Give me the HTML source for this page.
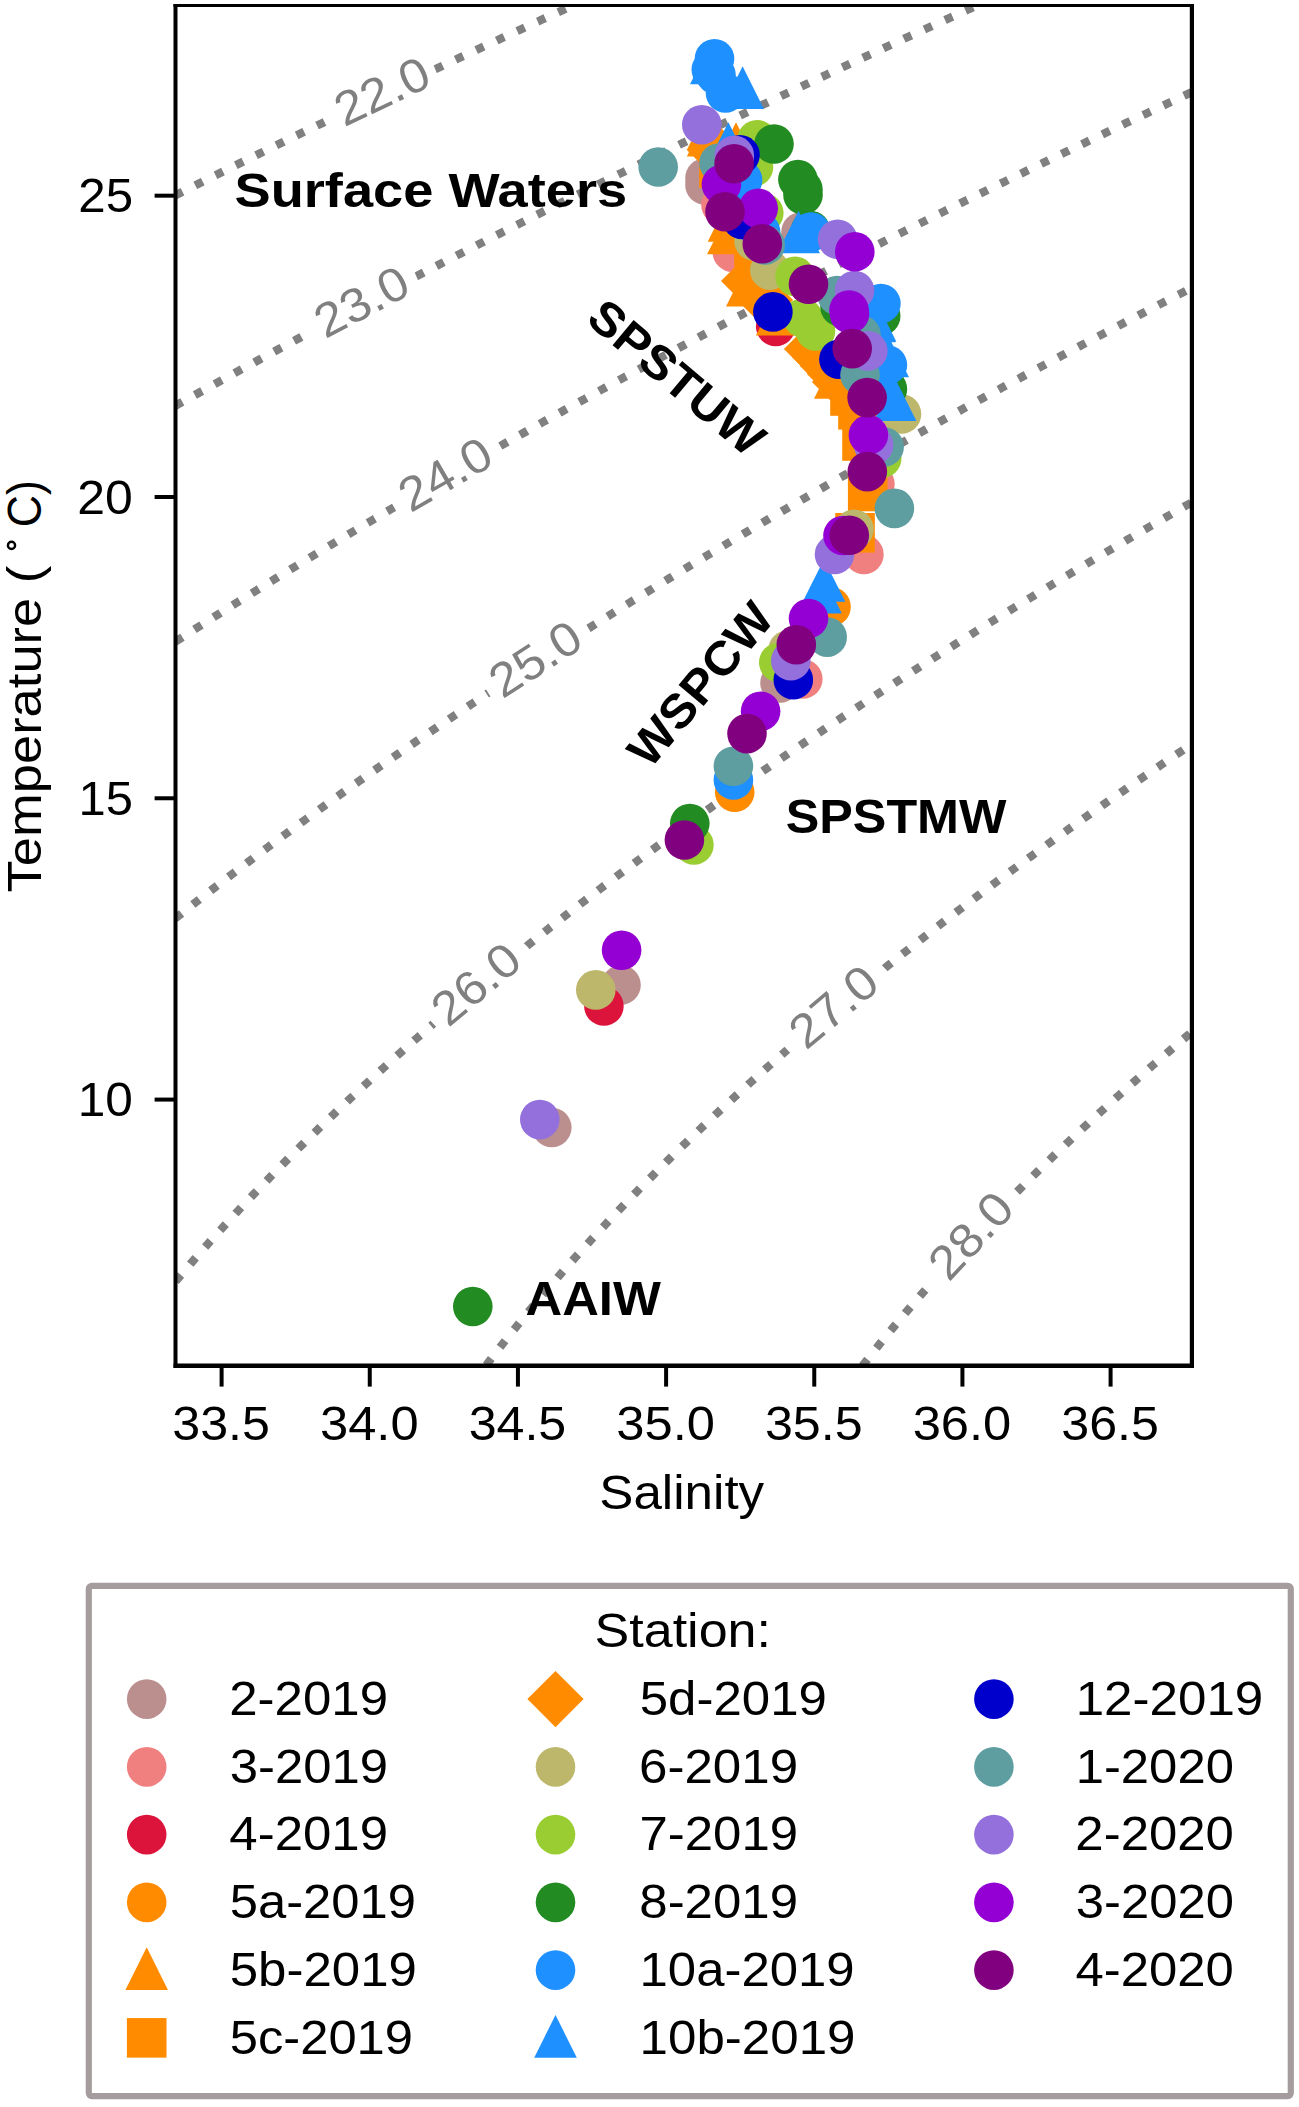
<!DOCTYPE html>
<html><head><meta charset="utf-8"><style>html,body{margin:0;padding:0;background:#fff;overflow:hidden}svg{display:block}text{font-family:"Liberation Sans",sans-serif}</style></head>
<body><svg width="1299" height="2107" viewBox="0 0 1299 2107">
<rect x="0" y="0" width="1299" height="2107" fill="#fff"/>
<clipPath id="ax"><rect x="175.5" y="5.5" width="1016.4000000000001" height="1360.2"/></clipPath>
<g clip-path="url(#ax)" fill="none" stroke="#808080" stroke-width="8.3" stroke-dasharray="8.3 14.30" stroke-linecap="butt"><path d="M100.0,233.4 L100.8,233.0 L104.7,231.0 L108.6,229.0 L112.6,227.0 L116.5,225.0 L120.4,223.0 L124.4,221.0 L128.3,219.0 L132.3,217.0 L136.2,215.0 L140.2,213.0 L144.1,211.0 L148.1,209.0 L152.0,207.0 L156.0,205.0 L160.0,203.0 L164.0,201.0 L168.0,199.0 L172.0,197.0 L176.0,195.0 L180.0,193.0 L184.0,191.0 L188.0,189.0 L192.0,187.0 L196.0,185.0 L200.0,183.0 L204.0,181.0 L208.0,179.0 L212.0,177.0 L216.1,175.0 L220.1,173.0 L224.1,171.0 L228.2,169.0 L232.2,167.0 L236.3,165.0 L240.3,163.0 L244.4,161.0 L248.5,159.0 L252.5,157.0 L256.6,155.0 L260.7,153.0 L264.8,151.0 L268.9,149.0 L273.0,147.0 L277.0,145.0 L281.0,143.1 L285.0,141.1 L289.0,139.2 L293.0,137.2 L297.0,135.3 L301.0,133.3 L305.0,131.4 L309.0,129.5 L313.0,127.5 L317.0,125.6 L321.0,123.7 L325.0,121.7 L329.0,119.8 L331.7,118.5" stroke-dashoffset="6.27"/>
<path d="M435.2,69.2 L435.7,69.0 L440.0,67.0 L444.0,65.1 L448.0,63.2 L452.0,61.4 L456.0,59.5 L460.0,57.6 L464.0,55.8 L468.0,53.9 L472.1,52.0 L476.3,50.0 L480.6,48.0 L484.9,46.0 L489.0,44.1 L493.0,42.3 L497.0,40.4 L501.0,38.5 L505.0,36.7 L509.0,34.8 L513.0,33.0 L517.3,31.0 L521.7,29.0 L526.0,27.0 L530.0,25.2 L534.0,23.3 L538.0,21.5 L542.0,19.6 L546.0,17.8 L550.0,16.0 L554.3,14.0 L558.7,12.0 L563.0,10.0 L567.0,8.2 L571.0,6.4 L575.0,4.5 L579.0,2.7 L583.0,0.9 L587.2,-1.0 L591.6,-3.0 L596.0,-5.0 L600.0,-6.8 L604.0,-8.6 L608.0,-10.4 L612.0,-12.3 L616.0,-14.1 L620.3,-16.0 L624.7,-18.0 L629.0,-19.9 L633.0,-21.7 L637.0,-23.5 L641.0,-25.3 L645.0,-27.1 L649.2,-29.0 L653.6,-31.0 L658.0,-33.0 L662.0,-34.8 L666.0,-36.5 L670.0,-38.3 L674.0,-40.1 L678.2,-42.0 L682.7,-44.0 L687.0,-45.9 L691.0,-47.7 L695.0,-49.5 L699.0,-51.3 L703.0,-53.0 L707.4,-55.0 L712.0,-57.0 L716.0,-58.8 L720.0,-60.6 L724.0,-62.3 L728.0,-64.1 L732.3,-66.0 L736.8,-68.0 L741.0,-69.8 L745.0,-71.6 L749.0,-73.4 L753.0,-75.1 L757.3,-77.0 L761.8,-79.0 L764.1,-80.0"/>
<path d="M100.0,448.5 L100.8,448.0 L104.3,446.0 L108.0,443.9 L112.0,441.6 L116.0,439.3 L120.0,437.1 L123.6,435.0 L127.2,433.0 L131.0,430.8 L135.0,428.6 L139.0,426.3 L143.0,424.0 L146.6,422.0 L150.2,420.0 L154.0,417.8 L158.0,415.6 L162.0,413.3 L166.0,411.1 L169.8,409.0 L173.3,407.0 L177.0,405.0 L181.0,402.7 L185.0,400.5 L189.0,398.3 L193.0,396.0 L196.7,394.0 L200.3,392.0 L204.0,390.0 L208.0,387.7 L212.0,385.5 L216.0,383.3 L220.0,381.1 L223.9,379.0 L227.5,377.0 L231.2,375.0 L235.0,372.9 L239.0,370.7 L243.0,368.5 L247.0,366.3 L251.0,364.2 L255.0,362.0 L258.6,360.0 L262.3,358.0 L266.0,356.0 L270.0,353.8 L274.0,351.7 L278.0,349.5 L282.0,347.4 L286.0,345.2 L290.0,343.0 L293.8,341.0 L297.5,339.0 L301.3,337.0 L305.0,335.0 L309.0,332.9 L310.0,332.3" stroke-dashoffset="4.10"/>
<path d="M416.3,276.3 L417.0,276.0 L420.8,274.0 L424.7,272.0 L428.6,270.0 L432.4,268.0 L436.3,266.0 L440.2,264.0 L444.1,262.0 L448.0,260.0 L452.0,257.9 L456.0,255.9 L460.0,253.8 L464.0,251.8 L468.0,249.7 L472.0,247.7 L476.0,245.7 L480.0,243.6 L484.0,241.6 L488.0,239.5 L492.0,237.5 L496.0,235.5 L500.0,233.5 L504.0,231.4 L508.0,229.4 L512.0,227.4 L516.0,225.4 L520.0,223.4 L524.0,221.3 L528.0,219.3 L532.0,217.3 L536.0,215.3 L540.0,213.3 L544.0,211.3 L548.0,209.3 L552.0,207.3 L556.0,205.3 L560.0,203.3 L564.0,201.3 L568.0,199.3 L572.0,197.3 L576.0,195.3 L580.0,193.4 L584.0,191.4 L588.0,189.4 L592.0,187.4 L596.0,185.4 L600.0,183.5 L604.0,181.5 L608.0,179.5 L612.0,177.6 L616.0,175.6 L620.0,173.6 L624.0,171.7 L628.0,169.7 L632.0,167.7 L636.0,165.8 L640.0,163.8 L644.0,161.9 L648.0,159.9 L652.0,158.0 L656.0,156.0 L660.2,154.0 L664.3,152.0 L668.4,150.0 L672.5,148.0 L676.7,146.0 L680.8,144.0 L684.9,142.0 L689.0,140.0 L693.0,138.1 L697.0,136.2 L701.0,134.2 L705.0,132.3 L709.0,130.4 L713.0,128.5 L717.0,126.6 L721.0,124.6 L725.0,122.7 L729.0,120.8 L733.0,118.9 L737.0,117.0 L741.2,115.0 L745.4,113.0 L749.6,111.0 L753.8,109.0 L758.0,107.0 L762.0,105.1 L766.0,103.2 L770.0,101.3 L774.0,99.4 L778.0,97.5 L782.0,95.6 L786.0,93.7 L790.0,91.9 L794.0,90.0 L798.2,88.0 L802.4,86.0 L806.7,84.0 L811.0,82.0 L815.0,80.1 L819.0,78.2 L823.0,76.4 L827.0,74.5 L831.0,72.6 L835.0,70.8 L839.0,68.9 L843.1,67.0 L847.4,65.0 L851.7,63.0 L856.0,61.0 L860.0,59.1 L864.0,57.3 L868.0,55.4 L872.0,53.6 L876.0,51.7 L880.0,49.9 L884.0,48.0 L888.4,46.0 L892.7,44.0 L897.0,42.0 L901.0,40.2 L905.0,38.3 L909.0,36.5 L913.0,34.7 L917.0,32.8 L921.0,31.0 L925.4,29.0 L929.8,27.0 L934.0,25.1 L938.0,23.2 L942.0,21.4 L946.0,19.6 L950.0,17.8 L954.0,16.0 L958.3,14.0 L962.7,12.0 L967.0,10.1 L971.0,8.2 L975.0,6.4 L979.0,4.6 L983.0,2.8 L987.0,1.0 L991.4,-1.0 L995.9,-3.0 L1000.0,-4.9 L1004.0,-6.7 L1008.0,-8.5 L1012.0,-10.3 L1016.0,-12.0 L1020.3,-14.0 L1024.8,-16.0 L1029.0,-17.9 L1033.0,-19.7 L1037.0,-21.5 L1041.0,-23.2 L1045.0,-25.0 L1049.4,-27.0 L1053.9,-29.0 L1058.0,-30.8 L1062.0,-32.6 L1066.0,-34.4 L1070.0,-36.1 L1074.2,-38.0 L1078.7,-40.0 L1083.0,-41.9 L1087.0,-43.7 L1091.0,-45.5 L1095.0,-47.2 L1099.0,-49.0 L1103.6,-51.0 L1108.0,-53.0 L1112.0,-54.7 L1116.0,-56.5 L1120.0,-58.2 L1124.0,-60.0 L1128.6,-62.0 L1133.0,-63.9 L1137.0,-65.7 L1141.0,-67.4 L1145.0,-69.2 L1149.1,-71.0 L1153.7,-73.0 L1158.0,-74.9 L1162.0,-76.6 L1166.0,-78.4 L1169.8,-80.0"/>
<path d="M100.0,691.1 L100.1,691.0 L104.0,688.4 L107.6,686.0 L111.0,683.8 L115.0,681.1 L118.2,679.0 L122.0,676.5 L125.8,674.0 L129.0,671.9 L133.0,669.2 L136.4,667.0 L140.0,664.7 L144.0,662.0 L147.1,660.0 L151.0,657.5 L154.8,655.0 L158.0,652.9 L162.0,650.3 L165.6,648.0 L169.0,645.8 L173.0,643.2 L176.5,641.0 L180.0,638.7 L184.0,636.2 L187.4,634.0 L191.0,631.7 L195.0,629.1 L198.3,627.0 L202.0,624.7 L206.0,622.1 L209.3,620.0 L213.0,617.7 L217.0,615.1 L220.4,613.0 L224.0,610.7 L228.0,608.2 L231.5,606.0 L235.0,603.8 L239.0,601.3 L242.7,599.0 L246.0,596.9 L250.0,594.4 L253.9,592.0 L257.1,590.0 L261.0,587.6 L265.0,585.1 L268.4,583.0 L272.0,580.8 L276.0,578.3 L279.8,576.0 L283.1,574.0 L287.0,571.6 L291.0,569.1 L294.5,567.0 L298.0,564.8 L302.0,562.4 L306.0,560.0 L309.2,558.0 L313.0,555.7 L317.0,553.3 L320.8,551.0 L324.1,549.0 L328.0,546.6 L332.0,544.2 L335.7,542.0 L339.0,540.0 L343.0,537.6 L347.0,535.2 L350.7,533.0 L354.1,531.0 L358.0,528.7 L362.0,526.3 L365.8,524.0 L369.2,522.0 L373.0,519.7 L377.0,517.4 L381.0,515.0 L384.4,513.0 L388.0,510.9 L392.0,508.5 L394.1,507.3" stroke-dashoffset="0.16"/>
<path d="M500.3,446.0 L500.3,446.0 L504.0,443.9 L508.0,441.7 L512.0,439.4 L516.0,437.2 L519.8,435.0 L523.4,433.0 L527.0,431.0 L531.0,428.7 L535.0,426.5 L539.0,424.3 L543.0,422.0 L546.6,420.0 L550.2,418.0 L554.0,415.9 L558.0,413.7 L562.0,411.5 L566.0,409.2 L570.0,407.0 L573.7,405.0 L577.3,403.0 L581.0,401.0 L585.0,398.8 L589.0,396.6 L593.0,394.4 L597.0,392.2 L600.9,390.0 L604.6,388.0 L608.3,386.0 L612.0,384.0 L616.0,381.8 L620.0,379.6 L624.0,377.4 L628.0,375.3 L632.0,373.1 L635.8,371.0 L639.5,369.0 L643.2,367.0 L647.0,365.0 L651.0,362.8 L655.0,360.7 L659.0,358.5 L663.0,356.4 L667.0,354.2 L671.0,352.1 L674.9,350.0 L678.6,348.0 L682.3,346.0 L686.1,344.0 L690.0,341.9 L694.0,339.8 L698.0,337.7 L702.0,335.5 L706.0,333.4 L710.0,331.3 L714.0,329.2 L718.0,327.1 L721.9,325.0 L725.7,323.0 L729.5,321.0 L733.3,319.0 L737.1,317.0 L741.0,315.0 L745.0,312.9 L749.0,310.8 L753.0,308.7 L757.0,306.6 L761.0,304.5 L765.0,302.4 L769.0,300.3 L773.0,298.3 L777.0,296.2 L781.0,294.1 L785.0,292.0 L788.9,290.0 L792.8,288.0 L796.7,286.0 L800.5,284.0 L804.4,282.0 L808.3,280.0 L812.2,278.0 L816.1,276.0 L820.0,274.0 L824.0,271.9 L828.0,269.9 L832.0,267.8 L836.0,265.8 L840.0,263.8 L844.0,261.7 L848.0,259.7 L852.0,257.6 L856.0,255.6 L860.0,253.6 L864.0,251.6 L868.0,249.5 L872.0,247.5 L876.0,245.5 L880.0,243.5 L884.0,241.4 L888.0,239.4 L892.0,237.4 L896.0,235.4 L900.0,233.4 L904.0,231.4 L908.0,229.4 L912.0,227.4 L916.0,225.4 L920.0,223.4 L924.0,221.4 L928.0,219.4 L932.0,217.4 L936.0,215.4 L940.0,213.4 L944.0,211.4 L948.0,209.4 L952.0,207.5 L956.0,205.5 L960.0,203.5 L964.0,201.5 L968.0,199.6 L972.0,197.6 L976.0,195.6 L980.0,193.6 L984.0,191.7 L988.0,189.7 L992.0,187.8 L996.0,185.8 L1000.0,183.8 L1004.0,181.9 L1008.0,179.9 L1012.0,178.0 L1016.1,176.0 L1020.2,174.0 L1024.3,172.0 L1028.4,170.0 L1032.5,168.0 L1036.6,166.0 L1040.7,164.0 L1044.9,162.0 L1049.0,160.0 L1053.0,158.1 L1057.0,156.1 L1061.0,154.2 L1065.0,152.3 L1069.0,150.4 L1073.0,148.4 L1077.0,146.5 L1081.0,144.6 L1085.0,142.7 L1089.0,140.8 L1093.0,138.9 L1097.0,136.9 L1101.1,135.0 L1105.2,133.0 L1109.4,131.0 L1113.6,129.0 L1117.8,127.0 L1122.0,125.0 L1126.0,123.1 L1130.0,121.2 L1134.0,119.3 L1138.0,117.4 L1142.0,115.5 L1146.0,113.7 L1150.0,111.8 L1154.0,109.9 L1158.0,108.0 L1162.2,106.0 L1166.5,104.0 L1170.7,102.0 L1175.0,100.0 L1179.0,98.1 L1183.0,96.2 L1187.0,94.4 L1191.0,92.5 L1195.0,90.6 L1199.0,88.8 L1203.0,86.9 L1207.1,85.0 L1211.4,83.0 L1215.7,81.0 L1220.0,79.0 L1224.0,77.1 L1228.0,75.3 L1232.0,73.4 L1236.0,71.6 L1240.0,69.7 L1244.0,67.9 L1248.0,66.0 L1252.4,64.0 L1256.7,62.0 L1261.0,60.0 L1265.0,58.2 L1269.0,56.3 L1273.0,54.5 L1277.0,52.7 L1279.0,51.8"/>
<path d="M100.0,979.9 L101.0,979.1 L104.0,976.5 L107.0,974.0 L110.6,971.0 L114.0,968.2 L117.0,965.7 L120.3,963.0 L123.9,960.0 L127.0,957.4 L130.0,955.0 L133.6,952.0 L137.0,949.2 L140.0,946.8 L143.4,944.0 L147.0,941.1 L150.0,938.7 L153.3,936.0 L157.0,933.0 L160.0,930.6 L163.2,928.0 L167.0,925.0 L170.0,922.6 L173.3,920.0 L177.0,917.0 L180.0,914.7 L183.4,912.0 L187.0,909.1 L190.0,906.8 L193.5,904.0 L197.0,901.3 L200.0,898.9 L203.8,896.0 L207.0,893.5 L210.2,891.0 L214.0,888.1 L217.0,885.8 L220.6,883.0 L224.0,880.4 L227.1,878.0 L231.0,875.0 L234.0,872.7 L237.6,870.0 L241.0,867.4 L244.2,865.0 L248.0,862.1 L251.0,859.9 L254.8,857.0 L258.0,854.6 L261.5,852.0 L265.0,849.4 L268.2,847.0 L272.0,844.1 L275.0,841.9 L278.9,839.0 L282.0,836.7 L285.7,834.0 L289.0,831.6 L292.5,829.0 L296.0,826.4 L299.3,824.0 L303.0,821.3 L306.2,819.0 L310.0,816.2 L313.1,814.0 L317.0,811.2 L320.0,809.0 L324.0,806.1 L327.0,803.9 L331.0,801.1 L334.0,798.9 L338.0,796.1 L341.0,793.9 L345.0,791.1 L348.0,788.9 L352.0,786.1 L355.0,784.0 L359.0,781.2 L362.1,779.0 L366.0,776.2 L369.2,774.0 L373.0,771.3 L376.3,769.0 L380.0,766.4 L383.5,764.0 L387.0,761.5 L390.7,759.0 L394.0,756.7 L397.9,754.0 L401.0,751.9 L405.0,749.1 L408.0,747.0 L412.0,744.3 L415.3,742.0 L419.0,739.5 L422.7,737.0 L426.0,734.7 L430.0,732.0 L433.0,730.0 L437.0,727.3 L440.3,725.0 L444.0,722.5 L447.8,720.0 L451.0,717.8 L455.0,715.1 L458.2,713.0 L462.0,710.4 L465.7,708.0 L469.0,705.8 L473.0,703.1 L476.2,701.0 L480.0,698.5 L483.7,696.0 L487.0,693.8 L488.3,693.0" stroke-dashoffset="16.03"/>
<path d="M588.5,628.4 L589.0,628.1 L592.3,626.0 L596.0,623.7 L600.0,621.2 L603.5,619.0 L607.0,616.8 L611.0,614.3 L614.7,612.0 L618.0,609.9 L622.0,607.4 L625.9,605.0 L629.2,603.0 L633.0,600.6 L637.0,598.2 L640.5,596.0 L644.0,593.8 L648.0,591.4 L651.9,589.0 L655.1,587.0 L659.0,584.6 L663.0,582.2 L666.6,580.0 L670.0,577.9 L674.0,575.5 L678.0,573.1 L681.4,571.0 L685.0,568.8 L689.0,566.4 L693.0,564.0 L696.3,562.0 L700.0,559.8 L704.0,557.4 L707.9,555.0 L711.3,553.0 L715.0,550.8 L719.0,548.4 L723.0,546.0 L726.3,544.0 L730.0,541.8 L734.0,539.4 L738.0,537.1 L741.5,535.0 L745.0,532.9 L749.0,530.6 L753.0,528.2 L756.7,526.0 L760.1,524.0 L764.0,521.7 L768.0,519.4 L772.0,517.0 L775.5,515.0 L779.0,513.0 L783.0,510.6 L787.0,508.3 L790.9,506.0 L794.4,504.0 L798.0,501.9 L802.0,499.6 L806.0,497.3 L809.9,495.0 L813.4,493.0 L817.0,490.9 L821.0,488.6 L825.0,486.3 L829.0,484.0 L832.5,482.0 L836.0,480.0 L840.0,477.7 L844.0,475.5 L848.0,473.2 L851.8,471.0 L855.3,469.0 L859.0,466.9 L863.0,464.7 L867.0,462.4 L871.0,460.1 L874.8,458.0 L878.3,456.0 L882.0,453.9 L886.0,451.7 L890.0,449.4 L894.0,447.2 L897.9,445.0 L901.5,443.0 L905.0,441.0 L909.0,438.8 L913.0,436.6 L917.0,434.3 L921.0,432.1 L924.8,430.0 L928.4,428.0 L932.0,426.0 L936.0,423.8 L940.0,421.6 L944.0,419.4 L948.0,417.2 L952.0,415.0 L955.6,413.0 L959.2,411.0 L963.0,408.9 L967.0,406.7 L971.0,404.6 L975.0,402.4 L979.0,400.2 L983.0,398.0 L986.7,396.0 L990.4,394.0 L994.1,392.0 L998.0,389.9 L1002.0,387.7 L1006.0,385.5 L1010.0,383.4 L1014.0,381.2 L1018.0,379.1 L1021.8,377.0 L1025.5,375.0 L1029.3,373.0 L1033.0,371.0 L1037.0,368.9 L1041.0,366.7 L1045.0,364.6 L1049.0,362.4 L1053.0,360.3 L1057.0,358.2 L1061.0,356.0 L1064.9,354.0 L1068.6,352.0 L1072.4,350.0 L1076.2,348.0 L1080.0,346.0 L1084.0,343.9 L1088.0,341.8 L1092.0,339.6 L1096.0,337.5 L1100.0,335.4 L1104.0,333.3 L1108.0,331.2 L1112.0,329.1 L1116.0,327.0 L1119.9,325.0 L1123.7,323.0 L1127.6,321.0 L1131.4,319.0 L1135.3,317.0 L1139.1,315.0 L1143.0,313.0 L1147.0,310.9 L1151.0,308.8 L1155.0,306.8 L1159.0,304.7 L1163.0,302.6 L1167.0,300.6 L1171.0,298.5 L1175.0,296.4 L1179.0,294.4 L1183.0,292.3 L1187.0,290.3 L1191.0,288.2 L1195.0,286.2 L1199.0,284.1 L1203.0,282.1 L1207.0,280.0 L1211.0,278.0 L1214.9,276.0 L1218.9,274.0 L1222.8,272.0 L1226.8,270.0 L1230.7,268.0 L1234.7,266.0 L1238.6,264.0 L1242.6,262.0 L1246.5,260.0 L1250.5,258.0 L1254.5,256.0 L1258.4,254.0 L1262.4,252.0 L1266.4,250.0 L1270.4,248.0 L1274.4,246.0 L1278.4,244.0 L1279.0,243.7"/>
<path d="M100.0,1378.2 L100.1,1378.0 L103.0,1374.0 L105.2,1371.0 L108.0,1367.1 L110.3,1364.0 L113.0,1360.3 L115.5,1357.0 L118.0,1353.6 L120.7,1350.0 L123.0,1347.0 L126.0,1343.1 L128.3,1340.0 L131.0,1336.6 L133.8,1333.0 L136.1,1330.0 L139.0,1326.3 L141.6,1323.0 L144.0,1319.9 L147.0,1316.2 L149.5,1313.0 L152.0,1309.9 L155.0,1306.2 L157.6,1303.0 L160.1,1300.0 L163.0,1296.4 L165.8,1293.0 L168.3,1290.0 L171.0,1286.8 L174.0,1283.2 L176.7,1280.0 L179.2,1277.0 L182.0,1273.7 L185.0,1270.2 L187.8,1267.0 L190.3,1264.0 L193.0,1260.9 L196.0,1257.5 L199.0,1254.1 L201.7,1251.0 L204.3,1248.0 L207.0,1245.0 L210.0,1241.6 L213.0,1238.3 L215.9,1235.0 L218.6,1232.0 L221.4,1229.0 L224.1,1226.0 L227.0,1222.8 L230.0,1219.5 L233.0,1216.3 L236.0,1213.0 L238.8,1210.0 L241.6,1207.0 L244.4,1204.0 L247.3,1201.0 L250.1,1198.0 L253.0,1194.9 L256.0,1191.8 L259.0,1188.6 L262.0,1185.5 L265.0,1182.4 L268.0,1179.3 L271.0,1176.2 L274.0,1173.1 L277.0,1170.1 L280.0,1167.0 L283.0,1164.0 L285.9,1161.0 L288.9,1158.0 L291.9,1155.0 L294.9,1152.0 L297.9,1149.0 L300.9,1146.0 L304.0,1143.0 L307.0,1140.0 L310.0,1137.1 L313.0,1134.1 L316.0,1131.2 L319.0,1128.3 L322.0,1125.4 L325.0,1122.5 L328.0,1119.6 L331.0,1116.8 L334.0,1113.9 L337.0,1111.0 L340.2,1108.0 L343.4,1105.0 L346.6,1102.0 L349.7,1099.0 L353.0,1096.0 L356.0,1093.2 L359.0,1090.4 L362.0,1087.6 L365.0,1084.8 L368.1,1082.0 L371.3,1079.0 L374.6,1076.0 L377.9,1073.0 L381.0,1070.2 L384.0,1067.5 L387.0,1064.7 L390.0,1062.0 L393.4,1059.0 L396.7,1056.0 L400.0,1053.1 L403.0,1050.4 L406.0,1047.7 L409.1,1045.0 L412.5,1042.0 L415.9,1039.0 L419.0,1036.3 L422.0,1033.7 L425.1,1031.0 L428.5,1028.0 L432.0,1025.0 L433.3,1023.8" stroke-dashoffset="12.66"/>
<path d="M526.8,946.1 L526.9,946.0 L530.0,943.5 L533.2,941.0 L536.9,938.0 L540.0,935.6 L543.2,933.0 L547.0,930.0 L550.0,927.6 L553.4,925.0 L557.0,922.1 L560.0,919.8 L563.6,917.0 L567.0,914.3 L570.0,912.0 L573.9,909.0 L577.0,906.6 L580.3,904.0 L584.0,901.2 L587.0,898.9 L590.7,896.0 L594.0,893.5 L597.3,891.0 L601.0,888.2 L604.0,885.9 L607.8,883.0 L611.0,880.6 L614.4,878.0 L618.0,875.3 L621.1,873.0 L625.0,870.1 L628.0,867.8 L631.8,865.0 L635.0,862.6 L638.5,860.0 L642.0,857.4 L645.2,855.0 L649.0,852.2 L652.0,850.0 L656.0,847.1 L659.0,844.9 L662.9,842.0 L666.0,839.7 L669.8,837.0 L673.0,834.7 L676.7,832.0 L680.0,829.6 L683.6,827.0 L687.0,824.5 L690.5,822.0 L694.0,819.5 L697.5,817.0 L701.0,814.5 L704.5,812.0 L708.0,809.5 L711.5,807.0 L715.0,804.5 L718.5,802.0 L722.0,799.5 L725.6,797.0 L729.0,794.6 L732.7,792.0 L736.0,789.7 L739.8,787.0 L743.0,784.8 L747.0,782.0 L750.0,779.9 L754.0,777.1 L757.1,775.0 L761.0,772.3 L764.3,770.0 L768.0,767.5 L771.6,765.0 L775.0,762.6 L778.9,760.0 L782.0,757.9 L786.0,755.1 L789.1,753.0 L793.0,750.4 L796.5,748.0 L800.0,745.6 L803.8,743.0 L807.0,740.9 L811.0,738.2 L814.2,736.0 L818.0,733.5 L821.7,731.0 L825.0,728.8 L829.0,726.1 L832.2,724.0 L836.0,721.4 L839.7,719.0 L843.0,716.8 L847.0,714.1 L850.2,712.0 L854.0,709.5 L857.8,707.0 L861.0,704.9 L865.0,702.3 L868.5,700.0 L872.0,697.7 L876.0,695.1 L879.2,693.0 L883.0,690.5 L886.9,688.0 L890.0,686.0 L894.0,683.4 L897.7,681.0 L901.0,678.9 L905.0,676.3 L908.6,674.0 L912.0,671.8 L916.0,669.2 L919.5,667.0 L923.0,664.7 L927.0,662.2 L930.5,660.0 L934.0,657.7 L938.0,655.2 L941.5,653.0 L945.0,650.8 L949.0,648.2 L952.6,646.0 L956.0,643.8 L960.0,641.3 L963.7,639.0 L967.0,636.9 L971.0,634.4 L974.9,632.0 L978.1,630.0 L982.0,627.6 L986.0,625.1 L989.3,623.0 L993.0,620.7 L997.0,618.3 L1000.7,616.0 L1004.0,613.9 L1008.0,611.5 L1012.0,609.0 L1015.3,607.0 L1019.0,604.7 L1023.0,602.3 L1026.7,600.0 L1030.0,598.0 L1034.0,595.6 L1038.0,593.1 L1041.5,591.0 L1045.0,588.9 L1049.0,586.4 L1053.0,584.0 L1056.4,582.0 L1060.0,579.8 L1064.0,577.4 L1068.0,575.0 L1071.3,573.0 L1075.0,570.8 L1079.0,568.4 L1083.0,566.0 L1086.3,564.0 L1090.0,561.8 L1094.0,559.4 L1098.0,557.1 L1101.5,555.0 L1105.0,552.9 L1109.0,550.5 L1113.0,548.2 L1116.7,546.0 L1120.1,544.0 L1124.0,541.7 L1128.0,539.3 L1132.0,537.0 L1135.4,535.0 L1139.0,532.9 L1143.0,530.6 L1147.0,528.2 L1150.8,526.0 L1154.3,524.0 L1158.0,521.8 L1162.0,519.5 L1166.0,517.2 L1169.8,515.0 L1173.2,513.0 L1177.0,510.8 L1181.0,508.5 L1185.0,506.2 L1188.9,504.0 L1192.4,502.0 L1196.0,499.9 L1200.0,497.6 L1204.0,495.3 L1208.0,493.1 L1211.6,491.0 L1215.1,489.0 L1219.0,486.8 L1223.0,484.5 L1227.0,482.3 L1231.0,480.0 L1234.5,478.0 L1238.1,476.0 L1242.0,473.8 L1246.0,471.5 L1250.0,469.3 L1254.0,467.0 L1257.6,465.0 L1261.2,463.0 L1265.0,460.9 L1269.0,458.6 L1273.0,456.4 L1277.0,454.2 L1279.0,453.0"/>
<path d="M427.3,1449.0 L428.0,1448.0 L430.0,1444.9 L432.6,1441.0 L435.0,1437.3 L437.2,1434.0 L439.9,1430.0 L442.0,1426.9 L444.6,1423.0 L447.0,1419.5 L449.4,1416.0 L452.0,1412.3 L454.3,1409.0 L457.0,1405.2 L459.3,1402.0 L462.0,1398.1 L464.3,1395.0 L467.0,1391.2 L469.3,1388.0 L472.0,1384.3 L474.4,1381.0 L477.0,1377.5 L479.6,1374.0 L482.0,1370.8 L484.9,1367.0 L487.2,1364.0 L490.0,1360.3 L492.5,1357.0 L495.0,1353.8 L497.9,1350.0 L500.2,1347.0 L503.0,1343.5 L505.7,1340.0 L508.1,1337.0 L511.0,1333.4 L513.7,1330.0 L516.1,1327.0 L519.0,1323.4 L521.8,1320.0 L524.2,1317.0 L527.0,1313.6 L530.0,1310.0 L532.5,1307.0 L535.0,1304.0 L538.0,1300.4 L540.9,1297.0 L543.4,1294.0 L546.0,1291.0 L549.0,1287.5 L552.0,1284.0 L554.6,1281.0 L557.2,1278.0 L560.0,1274.7 L563.0,1271.3 L565.9,1268.0 L568.5,1265.0 L571.2,1262.0 L574.0,1258.9 L577.0,1255.5 L580.0,1252.2 L582.9,1249.0 L585.6,1246.0 L588.3,1243.0 L591.0,1240.0 L594.0,1236.8 L597.0,1233.5 L600.0,1230.3 L603.0,1227.1 L605.9,1224.0 L608.7,1221.0 L611.5,1218.0 L614.3,1215.0 L617.2,1212.0 L620.0,1209.0 L623.0,1205.9 L626.0,1202.8 L629.0,1199.7 L632.0,1196.6 L635.0,1193.5 L638.0,1190.4 L641.0,1187.3 L644.0,1184.3 L647.0,1181.2 L650.0,1178.2 L653.0,1175.2 L656.0,1172.2 L659.0,1169.2 L662.0,1166.2 L665.0,1163.2 L668.0,1160.2 L671.0,1157.3 L674.0,1154.4 L677.0,1151.4 L680.0,1148.5 L683.0,1145.6 L686.0,1142.7 L689.0,1139.8 L692.0,1136.9 L695.0,1134.0 L698.2,1131.0 L701.3,1128.0 L704.5,1125.0 L707.7,1122.0 L710.8,1119.0 L714.0,1116.0 L717.0,1113.2 L720.0,1110.4 L723.0,1107.7 L726.0,1104.9 L729.1,1102.0 L732.4,1099.0 L735.6,1096.0 L738.9,1093.0 L742.0,1090.2 L745.0,1087.5 L748.0,1084.7 L751.0,1082.0 L754.4,1079.0 L757.7,1076.0 L761.0,1073.0 L764.0,1070.4 L767.0,1067.7 L770.0,1065.0 L773.4,1062.0 L776.8,1059.0 L780.0,1056.2 L783.0,1053.6 L786.0,1051.0 L787.3,1049.8" stroke-dashoffset="10.52"/>
<path d="M884.8,968.2 L885.0,968.0 L888.0,965.6 L891.3,963.0 L895.0,960.0 L898.0,957.6 L901.3,955.0 L905.0,952.1 L908.0,949.7 L911.4,947.0 L915.0,944.2 L918.0,941.8 L921.6,939.0 L925.0,936.3 L928.0,934.0 L931.8,931.0 L935.0,928.5 L938.3,926.0 L942.0,923.1 L945.0,920.8 L948.6,918.0 L952.0,915.4 L955.1,913.0 L959.0,910.0 L962.0,907.8 L965.6,905.0 L969.0,902.4 L972.2,900.0 L976.0,897.1 L979.0,894.9 L982.8,892.0 L986.0,889.6 L989.5,887.0 L993.0,884.4 L996.2,882.0 L1000.0,879.2 L1003.0,876.9 L1007.0,874.0 L1010.0,871.7 L1013.7,869.0 L1017.0,866.6 L1020.5,864.0 L1024.0,861.4 L1027.3,859.0 L1031.0,856.3 L1034.2,854.0 L1038.0,851.2 L1041.1,849.0 L1045.0,846.2 L1048.0,844.0 L1052.0,841.1 L1055.0,838.9 L1059.0,836.1 L1062.0,833.9 L1066.0,831.1 L1069.0,828.9 L1073.0,826.1 L1076.0,823.9 L1080.0,821.1 L1083.0,819.0 L1087.0,816.1 L1090.0,814.0 L1094.0,811.2 L1097.2,809.0 L1101.0,806.3 L1104.3,804.0 L1108.0,801.4 L1111.5,799.0 L1115.0,796.5 L1118.6,794.0 L1122.0,791.7 L1125.9,789.0 L1129.0,786.8 L1133.0,784.1 L1136.0,782.0 L1140.0,779.3 L1143.3,777.0 L1147.0,774.5 L1150.6,772.0 L1154.0,769.7 L1158.0,767.0 L1161.0,764.9 L1165.0,762.2 L1168.3,760.0 L1172.0,757.5 L1175.7,755.0 L1179.0,752.8 L1183.0,750.1 L1186.1,748.0 L1190.0,745.4 L1193.6,743.0 L1197.0,740.7 L1201.0,738.1 L1204.1,736.0 L1208.0,733.4 L1211.7,731.0 L1215.0,728.8 L1219.0,726.2 L1222.3,724.0 L1226.0,721.6 L1229.9,719.0 L1233.0,717.0 L1237.0,714.4 L1240.6,712.0 L1244.0,709.8 L1248.0,707.2 L1251.4,705.0 L1255.0,702.6 L1259.0,700.1 L1262.2,698.0 L1266.0,695.5 L1269.9,693.0 L1273.0,691.0 L1277.0,688.5 L1279.0,687.2"/>
<path d="M802.1,1449.0 L802.8,1448.0 L805.0,1444.7 L807.5,1441.0 L810.0,1437.4 L812.3,1434.0 L815.0,1430.1 L817.2,1427.0 L820.0,1423.0 L822.1,1420.0 L825.0,1416.0 L827.1,1413.0 L830.0,1409.0 L832.2,1406.0 L835.0,1402.1 L837.3,1399.0 L840.0,1395.4 L842.5,1392.0 L845.0,1388.6 L847.7,1385.0 L850.0,1382.0 L853.0,1378.1 L855.4,1375.0 L858.0,1371.6 L860.8,1368.0 L863.1,1365.0 L866.0,1361.3 L868.6,1358.0 L871.0,1354.9 L874.0,1351.2 L876.5,1348.0 L879.0,1344.9 L882.0,1341.2 L884.6,1338.0 L887.1,1335.0 L890.0,1331.4 L892.8,1328.0 L895.3,1325.0 L898.0,1321.8 L901.0,1318.2 L903.7,1315.0 L906.2,1312.0 L909.0,1308.7 L912.0,1305.2 L914.8,1302.0 L917.3,1299.0 L920.0,1295.9 L923.0,1292.5 L926.0,1289.1 L928.7,1286.0 L930.5,1283.9" stroke-dashoffset="10.32"/>
<path d="M1017.1,1191.8 L1017.9,1191.0 L1020.9,1188.0 L1023.9,1185.0 L1026.9,1182.0 L1030.0,1179.0 L1033.0,1176.0 L1036.0,1173.1 L1039.0,1170.1 L1042.0,1167.2 L1045.0,1164.3 L1048.0,1161.4 L1051.0,1158.5 L1054.0,1155.6 L1057.0,1152.7 L1060.0,1149.8 L1063.0,1147.0 L1066.1,1144.0 L1069.3,1141.0 L1072.5,1138.0 L1075.7,1135.0 L1078.9,1132.0 L1082.0,1129.1 L1085.0,1126.3 L1088.0,1123.5 L1091.0,1120.7 L1094.0,1118.0 L1097.2,1115.0 L1100.5,1112.0 L1103.8,1109.0 L1107.0,1106.1 L1110.0,1103.3 L1113.0,1100.6 L1116.0,1097.9 L1119.3,1095.0 L1122.6,1092.0 L1126.0,1089.0 L1129.0,1086.3 L1132.0,1083.6 L1135.0,1081.0 L1138.4,1078.0 L1141.8,1075.0 L1145.0,1072.2 L1148.0,1069.5 L1151.0,1066.9 L1154.3,1064.0 L1157.8,1061.0 L1161.0,1058.2 L1164.0,1055.6 L1167.1,1053.0 L1170.6,1050.0 L1174.0,1047.1 L1177.0,1044.5 L1180.0,1041.9 L1183.5,1039.0 L1187.0,1036.0 L1190.0,1033.5 L1193.0,1031.0 L1196.5,1028.0 L1200.0,1025.1 L1203.0,1022.6 L1206.1,1020.0 L1209.7,1017.0 L1213.0,1014.3 L1216.0,1011.8 L1219.4,1009.0 L1223.0,1006.0 L1226.0,1003.6 L1229.1,1001.0 L1232.8,998.0 L1236.0,995.4 L1239.0,993.0 L1242.7,990.0 L1246.0,987.3 L1249.0,984.9 L1252.6,982.0 L1256.0,979.3 L1259.0,976.9 L1262.6,974.0 L1266.0,971.3 L1269.0,968.9 L1272.7,966.0 L1276.0,963.4 L1279.0,961.0"/></g>
<g clip-path="url(#ax)"><circle cx="705.00" cy="178.00" r="19.8" fill="#BC8F8F"/>
<circle cx="705.00" cy="185.00" r="19.8" fill="#BC8F8F"/>
<circle cx="801.00" cy="232.00" r="19.8" fill="#BC8F8F"/>
<circle cx="780.00" cy="683.00" r="19.8" fill="#BC8F8F"/>
<circle cx="621.00" cy="985.00" r="19.8" fill="#BC8F8F"/>
<circle cx="551.80" cy="1127.50" r="19.8" fill="#BC8F8F"/>
<circle cx="721.00" cy="205.00" r="19.8" fill="#F08080"/>
<circle cx="732.40" cy="252.10" r="19.8" fill="#F08080"/>
<circle cx="874.90" cy="484.00" r="19.8" fill="#F08080"/>
<circle cx="863.90" cy="554.40" r="19.8" fill="#F08080"/>
<circle cx="802.80" cy="679.00" r="19.8" fill="#F08080"/>
<circle cx="729.00" cy="198.00" r="19.8" fill="#DC143C"/>
<circle cx="775.70" cy="326.40" r="19.8" fill="#DC143C"/>
<circle cx="603.90" cy="1006.00" r="19.8" fill="#DC143C"/>
<circle cx="831.00" cy="606.80" r="19.8" fill="#FF8C00"/>
<circle cx="734.70" cy="792.20" r="19.8" fill="#FF8C00"/>
<polygon points="708.10,107.30 686.80,149.90 729.40,149.90" fill="#FF8C00"/>
<polygon points="708.10,113.80 686.80,156.40 729.40,156.40" fill="#FF8C00"/>
<polygon points="728.40,211.70 707.10,254.30 749.70,254.30" fill="#FF8C00"/>
<polygon points="729.00,199.20 707.70,241.80 750.30,241.80" fill="#FF8C00"/>
<polygon points="747.30,263.90 726.00,306.50 768.60,306.50" fill="#FF8C00"/>
<polygon points="777.20,293.00 755.90,335.60 798.50,335.60" fill="#FF8C00"/>
<polygon points="835.30,356.20 814.00,398.80 856.60,398.80" fill="#FF8C00"/>
<polygon points="736.00,122.20 714.70,164.80 757.30,164.80" fill="#FF8C00"/>
<rect x="699.20" y="148.20" width="39.6" height="39.6" fill="#FF8C00"/>
<rect x="734.20" y="242.20" width="39.6" height="39.6" fill="#FF8C00"/>
<rect x="830.20" y="376.20" width="39.6" height="39.6" fill="#FF8C00"/>
<rect x="838.20" y="390.00" width="39.6" height="39.6" fill="#FF8C00"/>
<rect x="842.20" y="421.20" width="39.6" height="39.6" fill="#FF8C00"/>
<rect x="847.90" y="471.70" width="39.6" height="39.6" fill="#FF8C00"/>
<rect x="835.20" y="513.00" width="39.6" height="39.6" fill="#FF8C00"/>
<polygon points="715.00,121.90 743.10,150.00 715.00,178.10 686.90,150.00" fill="#FF8C00"/>
<polygon points="749.10,253.00 777.20,281.10 749.10,309.20 721.00,281.10" fill="#FF8C00"/>
<polygon points="812.00,320.90 840.10,349.00 812.00,377.10 783.90,349.00" fill="#FF8C00"/>
<polygon points="820.00,328.90 848.10,357.00 820.00,385.10 791.90,357.00" fill="#FF8C00"/>
<polygon points="828.00,337.90 856.10,366.00 828.00,394.10 799.90,366.00" fill="#FF8C00"/>
<polygon points="835.00,345.90 863.10,374.00 835.00,402.10 806.90,374.00" fill="#FF8C00"/>
<polygon points="840.00,353.90 868.10,382.00 840.00,410.10 811.90,382.00" fill="#FF8C00"/>
<polygon points="765.00,271.90 793.10,300.00 765.00,328.10 736.90,300.00" fill="#FF8C00"/>
<circle cx="754.00" cy="241.00" r="19.8" fill="#BDB76B"/>
<circle cx="769.80" cy="270.10" r="19.8" fill="#BDB76B"/>
<circle cx="901.50" cy="414.00" r="19.8" fill="#BDB76B"/>
<circle cx="854.00" cy="529.20" r="19.8" fill="#BDB76B"/>
<circle cx="788.00" cy="650.00" r="19.8" fill="#BDB76B"/>
<circle cx="595.80" cy="989.90" r="19.8" fill="#BDB76B"/>
<circle cx="757.00" cy="139.70" r="19.8" fill="#9ACD32"/>
<circle cx="753.50" cy="167.00" r="19.8" fill="#9ACD32"/>
<circle cx="763.80" cy="213.00" r="19.8" fill="#9ACD32"/>
<circle cx="795.00" cy="276.40" r="19.8" fill="#9ACD32"/>
<circle cx="803.00" cy="318.00" r="19.8" fill="#9ACD32"/>
<circle cx="815.50" cy="331.00" r="19.8" fill="#9ACD32"/>
<circle cx="881.70" cy="458.20" r="19.8" fill="#9ACD32"/>
<circle cx="778.80" cy="662.50" r="19.8" fill="#9ACD32"/>
<circle cx="693.90" cy="844.90" r="19.8" fill="#9ACD32"/>
<circle cx="774.00" cy="144.00" r="19.8" fill="#228B22"/>
<circle cx="797.90" cy="179.50" r="19.8" fill="#228B22"/>
<circle cx="802.90" cy="189.30" r="19.8" fill="#228B22"/>
<circle cx="803.00" cy="195.00" r="19.8" fill="#228B22"/>
<circle cx="810.50" cy="230.50" r="19.8" fill="#228B22"/>
<circle cx="840.00" cy="306.70" r="19.8" fill="#228B22"/>
<circle cx="880.70" cy="316.00" r="19.8" fill="#228B22"/>
<circle cx="887.40" cy="389.00" r="19.8" fill="#228B22"/>
<circle cx="689.80" cy="823.50" r="19.8" fill="#228B22"/>
<circle cx="472.80" cy="1306.50" r="19.8" fill="#228B22"/>
<circle cx="878.00" cy="388.00" r="19.8" fill="#1E90FF"/>
<circle cx="714.50" cy="58.70" r="19.8" fill="#1E90FF"/>
<circle cx="711.30" cy="69.60" r="19.8" fill="#1E90FF"/>
<circle cx="725.50" cy="93.00" r="19.8" fill="#1E90FF"/>
<circle cx="716.00" cy="75.00" r="19.8" fill="#1E90FF"/>
<circle cx="742.60" cy="180.00" r="19.8" fill="#1E90FF"/>
<circle cx="760.60" cy="232.00" r="19.8" fill="#1E90FF"/>
<circle cx="811.00" cy="232.00" r="19.8" fill="#1E90FF"/>
<circle cx="880.90" cy="303.60" r="19.8" fill="#1E90FF"/>
<circle cx="887.40" cy="365.00" r="19.8" fill="#1E90FF"/>
<circle cx="733.40" cy="779.90" r="19.8" fill="#1E90FF"/>
<polygon points="711.30,41.70 690.00,84.30 732.60,84.30" fill="#1E90FF"/>
<polygon points="742.60,66.30 721.30,108.90 763.90,108.90" fill="#1E90FF"/>
<polygon points="728.40,122.20 707.10,164.80 749.70,164.80" fill="#1E90FF"/>
<polygon points="798.60,210.70 777.30,253.30 819.90,253.30" fill="#1E90FF"/>
<polygon points="875.10,299.20 853.80,341.80 896.40,341.80" fill="#1E90FF"/>
<polygon points="874.20,299.60 852.90,342.20 895.50,342.20" fill="#1E90FF"/>
<polygon points="887.70,334.70 866.40,377.30 909.00,377.30" fill="#1E90FF"/>
<polygon points="895.10,378.40 873.80,421.00 916.40,421.00" fill="#1E90FF"/>
<polygon points="820.60,570.90 799.30,613.50 841.90,613.50" fill="#1E90FF"/>
<polygon points="824.00,559.20 802.70,601.80 845.30,601.80" fill="#1E90FF"/>
<circle cx="740.00" cy="154.90" r="19.8" fill="#0000CD"/>
<circle cx="742.00" cy="219.50" r="19.8" fill="#0000CD"/>
<circle cx="772.90" cy="311.90" r="19.8" fill="#0000CD"/>
<circle cx="838.90" cy="359.30" r="19.8" fill="#0000CD"/>
<circle cx="793.30" cy="679.80" r="19.8" fill="#0000CD"/>
<circle cx="658.20" cy="167.00" r="19.8" fill="#5F9EA0"/>
<circle cx="719.00" cy="163.00" r="19.8" fill="#5F9EA0"/>
<circle cx="765.20" cy="245.00" r="19.8" fill="#5F9EA0"/>
<circle cx="837.20" cy="295.50" r="19.8" fill="#5F9EA0"/>
<circle cx="861.00" cy="335.00" r="19.8" fill="#5F9EA0"/>
<circle cx="860.00" cy="375.00" r="19.8" fill="#5F9EA0"/>
<circle cx="884.10" cy="447.00" r="19.8" fill="#5F9EA0"/>
<circle cx="894.40" cy="508.40" r="19.8" fill="#5F9EA0"/>
<circle cx="827.20" cy="637.10" r="19.8" fill="#5F9EA0"/>
<circle cx="733.40" cy="766.20" r="19.8" fill="#5F9EA0"/>
<circle cx="701.80" cy="124.70" r="19.8" fill="#9370DB"/>
<circle cx="734.30" cy="155.40" r="19.8" fill="#9370DB"/>
<circle cx="837.60" cy="239.20" r="19.8" fill="#9370DB"/>
<circle cx="854.60" cy="290.50" r="19.8" fill="#9370DB"/>
<circle cx="867.80" cy="350.90" r="19.8" fill="#9370DB"/>
<circle cx="873.60" cy="445.00" r="19.8" fill="#9370DB"/>
<circle cx="834.50" cy="554.40" r="19.8" fill="#9370DB"/>
<circle cx="790.80" cy="660.80" r="19.8" fill="#9370DB"/>
<circle cx="539.80" cy="1119.60" r="19.8" fill="#9370DB"/>
<circle cx="721.40" cy="184.50" r="19.8" fill="#9400D3"/>
<circle cx="758.20" cy="208.40" r="19.8" fill="#9400D3"/>
<circle cx="854.80" cy="251.80" r="19.8" fill="#9400D3"/>
<circle cx="849.50" cy="313.80" r="19.8" fill="#9400D3"/>
<circle cx="849.00" cy="310.00" r="19.8" fill="#9400D3"/>
<circle cx="868.40" cy="434.90" r="19.8" fill="#9400D3"/>
<circle cx="843.00" cy="535.50" r="19.8" fill="#9400D3"/>
<circle cx="808.50" cy="618.50" r="19.8" fill="#9400D3"/>
<circle cx="760.60" cy="711.30" r="19.8" fill="#9400D3"/>
<circle cx="621.60" cy="950.20" r="19.8" fill="#9400D3"/>
<circle cx="867.10" cy="397.60" r="19.8" fill="#800080"/>
<circle cx="734.10" cy="163.70" r="19.8" fill="#800080"/>
<circle cx="725.00" cy="211.80" r="19.8" fill="#800080"/>
<circle cx="762.30" cy="243.80" r="19.8" fill="#800080"/>
<circle cx="808.50" cy="284.20" r="19.8" fill="#800080"/>
<circle cx="852.20" cy="348.60" r="19.8" fill="#800080"/>
<circle cx="867.30" cy="471.60" r="19.8" fill="#800080"/>
<circle cx="849.30" cy="535.30" r="19.8" fill="#800080"/>
<circle cx="796.30" cy="644.70" r="19.8" fill="#800080"/>
<circle cx="747.00" cy="733.60" r="19.8" fill="#800080"/>
<circle cx="684.40" cy="840.00" r="19.8" fill="#800080"/></g>
<line x1="175.5" y1="4.0" x2="175.5" y2="1367.7" stroke="#000" stroke-width="4"/>
<line x1="1191.9" y1="4.0" x2="1191.9" y2="1367.7" stroke="#000" stroke-width="4.2"/>
<line x1="173.5" y1="5.5" x2="1193.9" y2="5.5" stroke="#000" stroke-width="3"/>
<line x1="173.5" y1="1365.7" x2="1194.0" y2="1365.7" stroke="#000" stroke-width="4.4"/>
<line x1="154.6" y1="195.68" x2="175.5" y2="195.68" stroke="#000" stroke-width="4"/>
<line x1="154.6" y1="496.98" x2="175.5" y2="496.98" stroke="#000" stroke-width="4"/>
<line x1="154.6" y1="798.27" x2="175.5" y2="798.27" stroke="#000" stroke-width="4"/>
<line x1="154.6" y1="1099.58" x2="175.5" y2="1099.58" stroke="#000" stroke-width="4"/>
<line x1="221.60" y1="1365.7" x2="221.60" y2="1386.6" stroke="#000" stroke-width="4"/>
<line x1="369.76" y1="1365.7" x2="369.76" y2="1386.6" stroke="#000" stroke-width="4"/>
<line x1="517.93" y1="1365.7" x2="517.93" y2="1386.6" stroke="#000" stroke-width="4"/>
<line x1="666.10" y1="1365.7" x2="666.10" y2="1386.6" stroke="#000" stroke-width="4"/>
<line x1="814.26" y1="1365.7" x2="814.26" y2="1386.6" stroke="#000" stroke-width="4"/>
<line x1="962.42" y1="1365.7" x2="962.42" y2="1386.6" stroke="#000" stroke-width="4"/>
<line x1="1110.59" y1="1365.7" x2="1110.59" y2="1386.6" stroke="#000" stroke-width="4"/>
<circle cx="11.5" cy="545.4" r="3.6" fill="none" stroke="#000" stroke-width="2.4"/>
<rect x="88.8" y="1585.8" width="1202.0" height="510.3" rx="3" ry="3" fill="#fff" stroke="#A59D9D" stroke-width="6.2"/>
<circle cx="146.70" cy="1699.10" r="19.8" fill="#BC8F8F"/>
<circle cx="146.70" cy="1766.85" r="19.8" fill="#F08080"/>
<circle cx="146.70" cy="1834.60" r="19.8" fill="#DC143C"/>
<circle cx="146.70" cy="1902.35" r="19.8" fill="#FF8C00"/>
<polygon points="146.70,1947.30 125.40,1989.90 168.00,1989.90" fill="#FF8C00"/>
<rect x="126.90" y="2018.05" width="39.6" height="39.6" fill="#FF8C00"/>
<polygon points="555.50,1671.00 583.60,1699.10 555.50,1727.20 527.40,1699.10" fill="#FF8C00"/>
<circle cx="555.50" cy="1766.85" r="19.8" fill="#BDB76B"/>
<circle cx="555.50" cy="1834.60" r="19.8" fill="#9ACD32"/>
<circle cx="555.50" cy="1902.35" r="19.8" fill="#228B22"/>
<circle cx="555.50" cy="1970.10" r="19.8" fill="#1E90FF"/>
<polygon points="555.50,2015.05 534.20,2057.65 576.80,2057.65" fill="#1E90FF"/>
<circle cx="993.90" cy="1699.10" r="19.8" fill="#0000CD"/>
<circle cx="993.90" cy="1766.85" r="19.8" fill="#5F9EA0"/>
<circle cx="993.90" cy="1834.60" r="19.8" fill="#9370DB"/>
<circle cx="993.90" cy="1902.35" r="19.8" fill="#9400D3"/>
<circle cx="993.90" cy="1970.10" r="19.8" fill="#800080"/>
<text x="333.63" y="107.26" font-size="47.6" fill="#808080" textLength="99.10" lengthAdjust="spacingAndGlyphs" transform="rotate(-25.45 383.40 93.75)">22.0</text>
<text x="313.32" y="317.66" font-size="47.6" fill="#808080" textLength="99.10" lengthAdjust="spacingAndGlyphs" transform="rotate(-27.77 363.09 304.15)">23.0</text>
<text x="397.04" y="490.09" font-size="47.6" fill="#808080" textLength="99.10" lengthAdjust="spacingAndGlyphs" transform="rotate(-29.98 446.81 476.58)">24.0</text>
<text x="487.15" y="674.78" font-size="47.6" fill="#808080" textLength="99.10" lengthAdjust="spacingAndGlyphs" transform="rotate(-32.82 536.92 661.27)">25.0</text>
<text x="428.16" y="999.50" font-size="47.6" fill="#808080" textLength="99.10" lengthAdjust="spacingAndGlyphs" transform="rotate(-39.79 477.93 985.99)">26.0</text>
<text x="785.79" y="1022.12" font-size="47.6" fill="#808080" textLength="99.10" lengthAdjust="spacingAndGlyphs" transform="rotate(-39.93 835.56 1008.60)">27.0</text>
<text x="923.32" y="1250.74" font-size="47.6" fill="#808080" textLength="99.10" lengthAdjust="spacingAndGlyphs" transform="rotate(-46.76 973.10 1237.23)">28.0</text>
<text x="234.47" y="206.60" font-size="47.6" font-weight="bold" fill="#000" textLength="392.69" lengthAdjust="spacingAndGlyphs">Surface Waters</text>
<text x="785.79" y="833.20" font-size="47.6" font-weight="bold" fill="#000" textLength="220.69" lengthAdjust="spacingAndGlyphs">SPSTMW</text>
<text x="525.53" y="1315.10" font-size="47.6" font-weight="bold" fill="#000" textLength="135.32" lengthAdjust="spacingAndGlyphs">AAIW</text>
<text x="584.88" y="320.50" font-size="47.6" font-weight="bold" fill="#000" textLength="213.19" lengthAdjust="spacingAndGlyphs" transform="rotate(40 583.2 320.5)">SPSTUW</text>
<text x="650.36" y="771.00" font-size="47.6" font-weight="bold" fill="#000" textLength="196.34" lengthAdjust="spacingAndGlyphs" transform="rotate(-50 649.0 771.0)">WSPCW</text>
<text x="78.25" y="212.43" font-size="47.6" fill="#000" textLength="54.84" lengthAdjust="spacingAndGlyphs">25</text>
<text x="77.31" y="513.73" font-size="47.6" fill="#000" textLength="55.55" lengthAdjust="spacingAndGlyphs">20</text>
<text x="78.63" y="815.02" font-size="47.6" fill="#000" textLength="54.44" lengthAdjust="spacingAndGlyphs">15</text>
<text x="77.68" y="1116.33" font-size="47.6" fill="#000" textLength="55.18" lengthAdjust="spacingAndGlyphs">10</text>
<text x="172.32" y="1440.40" font-size="47.6" fill="#000" textLength="97.62" lengthAdjust="spacingAndGlyphs">33.5</text>
<text x="320.01" y="1440.40" font-size="47.6" fill="#000" textLength="98.57" lengthAdjust="spacingAndGlyphs">34.0</text>
<text x="468.65" y="1440.40" font-size="47.6" fill="#000" textLength="97.62" lengthAdjust="spacingAndGlyphs">34.5</text>
<text x="616.34" y="1440.40" font-size="47.6" fill="#000" textLength="98.57" lengthAdjust="spacingAndGlyphs">35.0</text>
<text x="764.98" y="1440.40" font-size="47.6" fill="#000" textLength="97.62" lengthAdjust="spacingAndGlyphs">35.5</text>
<text x="912.67" y="1440.40" font-size="47.6" fill="#000" textLength="98.57" lengthAdjust="spacingAndGlyphs">36.0</text>
<text x="1061.31" y="1440.40" font-size="47.6" fill="#000" textLength="97.62" lengthAdjust="spacingAndGlyphs">36.5</text>
<text x="599.30" y="1509.00" font-size="47.6" fill="#000" textLength="164.89" lengthAdjust="spacingAndGlyphs">Salinity</text>
<text x="-892.41" y="40.70" font-size="47.6" fill="#000" textLength="326.72" lengthAdjust="spacingAndGlyphs" transform="rotate(-90)">Temperature (</text>
<text x="-527.34" y="40.70" font-size="47.6" fill="#000" textLength="47.23" lengthAdjust="spacingAndGlyphs" transform="rotate(-90)">C)</text>
<text x="594.56" y="1647.10" font-size="47.6" fill="#000" textLength="176.49" lengthAdjust="spacingAndGlyphs">Station:</text>
<text x="229.25" y="1714.90" font-size="47.6" fill="#000" textLength="158.83" lengthAdjust="spacingAndGlyphs">2-2019</text>
<text x="229.77" y="1782.65" font-size="47.6" fill="#000" textLength="158.31" lengthAdjust="spacingAndGlyphs">3-2019</text>
<text x="229.39" y="1850.40" font-size="47.6" fill="#000" textLength="158.69" lengthAdjust="spacingAndGlyphs">4-2019</text>
<text x="229.77" y="1918.15" font-size="47.6" fill="#000" textLength="186.22" lengthAdjust="spacingAndGlyphs">5a-2019</text>
<text x="229.76" y="1985.90" font-size="47.6" fill="#000" textLength="187.14" lengthAdjust="spacingAndGlyphs">5b-2019</text>
<text x="229.77" y="2053.65" font-size="47.6" fill="#000" textLength="183.21" lengthAdjust="spacingAndGlyphs">5c-2019</text>
<text x="639.76" y="1714.90" font-size="47.6" fill="#000" textLength="187.14" lengthAdjust="spacingAndGlyphs">5d-2019</text>
<text x="639.02" y="1782.65" font-size="47.6" fill="#000" textLength="159.07" lengthAdjust="spacingAndGlyphs">6-2019</text>
<text x="639.48" y="1850.40" font-size="47.6" fill="#000" textLength="158.60" lengthAdjust="spacingAndGlyphs">7-2019</text>
<text x="639.28" y="1918.15" font-size="47.6" fill="#000" textLength="158.81" lengthAdjust="spacingAndGlyphs">8-2019</text>
<text x="639.57" y="1985.90" font-size="47.6" fill="#000" textLength="214.99" lengthAdjust="spacingAndGlyphs">10a-2019</text>
<text x="639.55" y="2053.65" font-size="47.6" fill="#000" textLength="215.93" lengthAdjust="spacingAndGlyphs">10b-2019</text>
<text x="1075.67" y="1714.90" font-size="47.6" fill="#000" textLength="187.59" lengthAdjust="spacingAndGlyphs">12-2019</text>
<text x="1075.69" y="1782.65" font-size="47.6" fill="#000" textLength="158.22" lengthAdjust="spacingAndGlyphs">1-2020</text>
<text x="1075.37" y="1850.40" font-size="47.6" fill="#000" textLength="158.54" lengthAdjust="spacingAndGlyphs">2-2020</text>
<text x="1075.88" y="1918.15" font-size="47.6" fill="#000" textLength="158.02" lengthAdjust="spacingAndGlyphs">3-2020</text>
<text x="1075.51" y="1985.90" font-size="47.6" fill="#000" textLength="158.40" lengthAdjust="spacingAndGlyphs">4-2020</text>
</svg></body></html>
